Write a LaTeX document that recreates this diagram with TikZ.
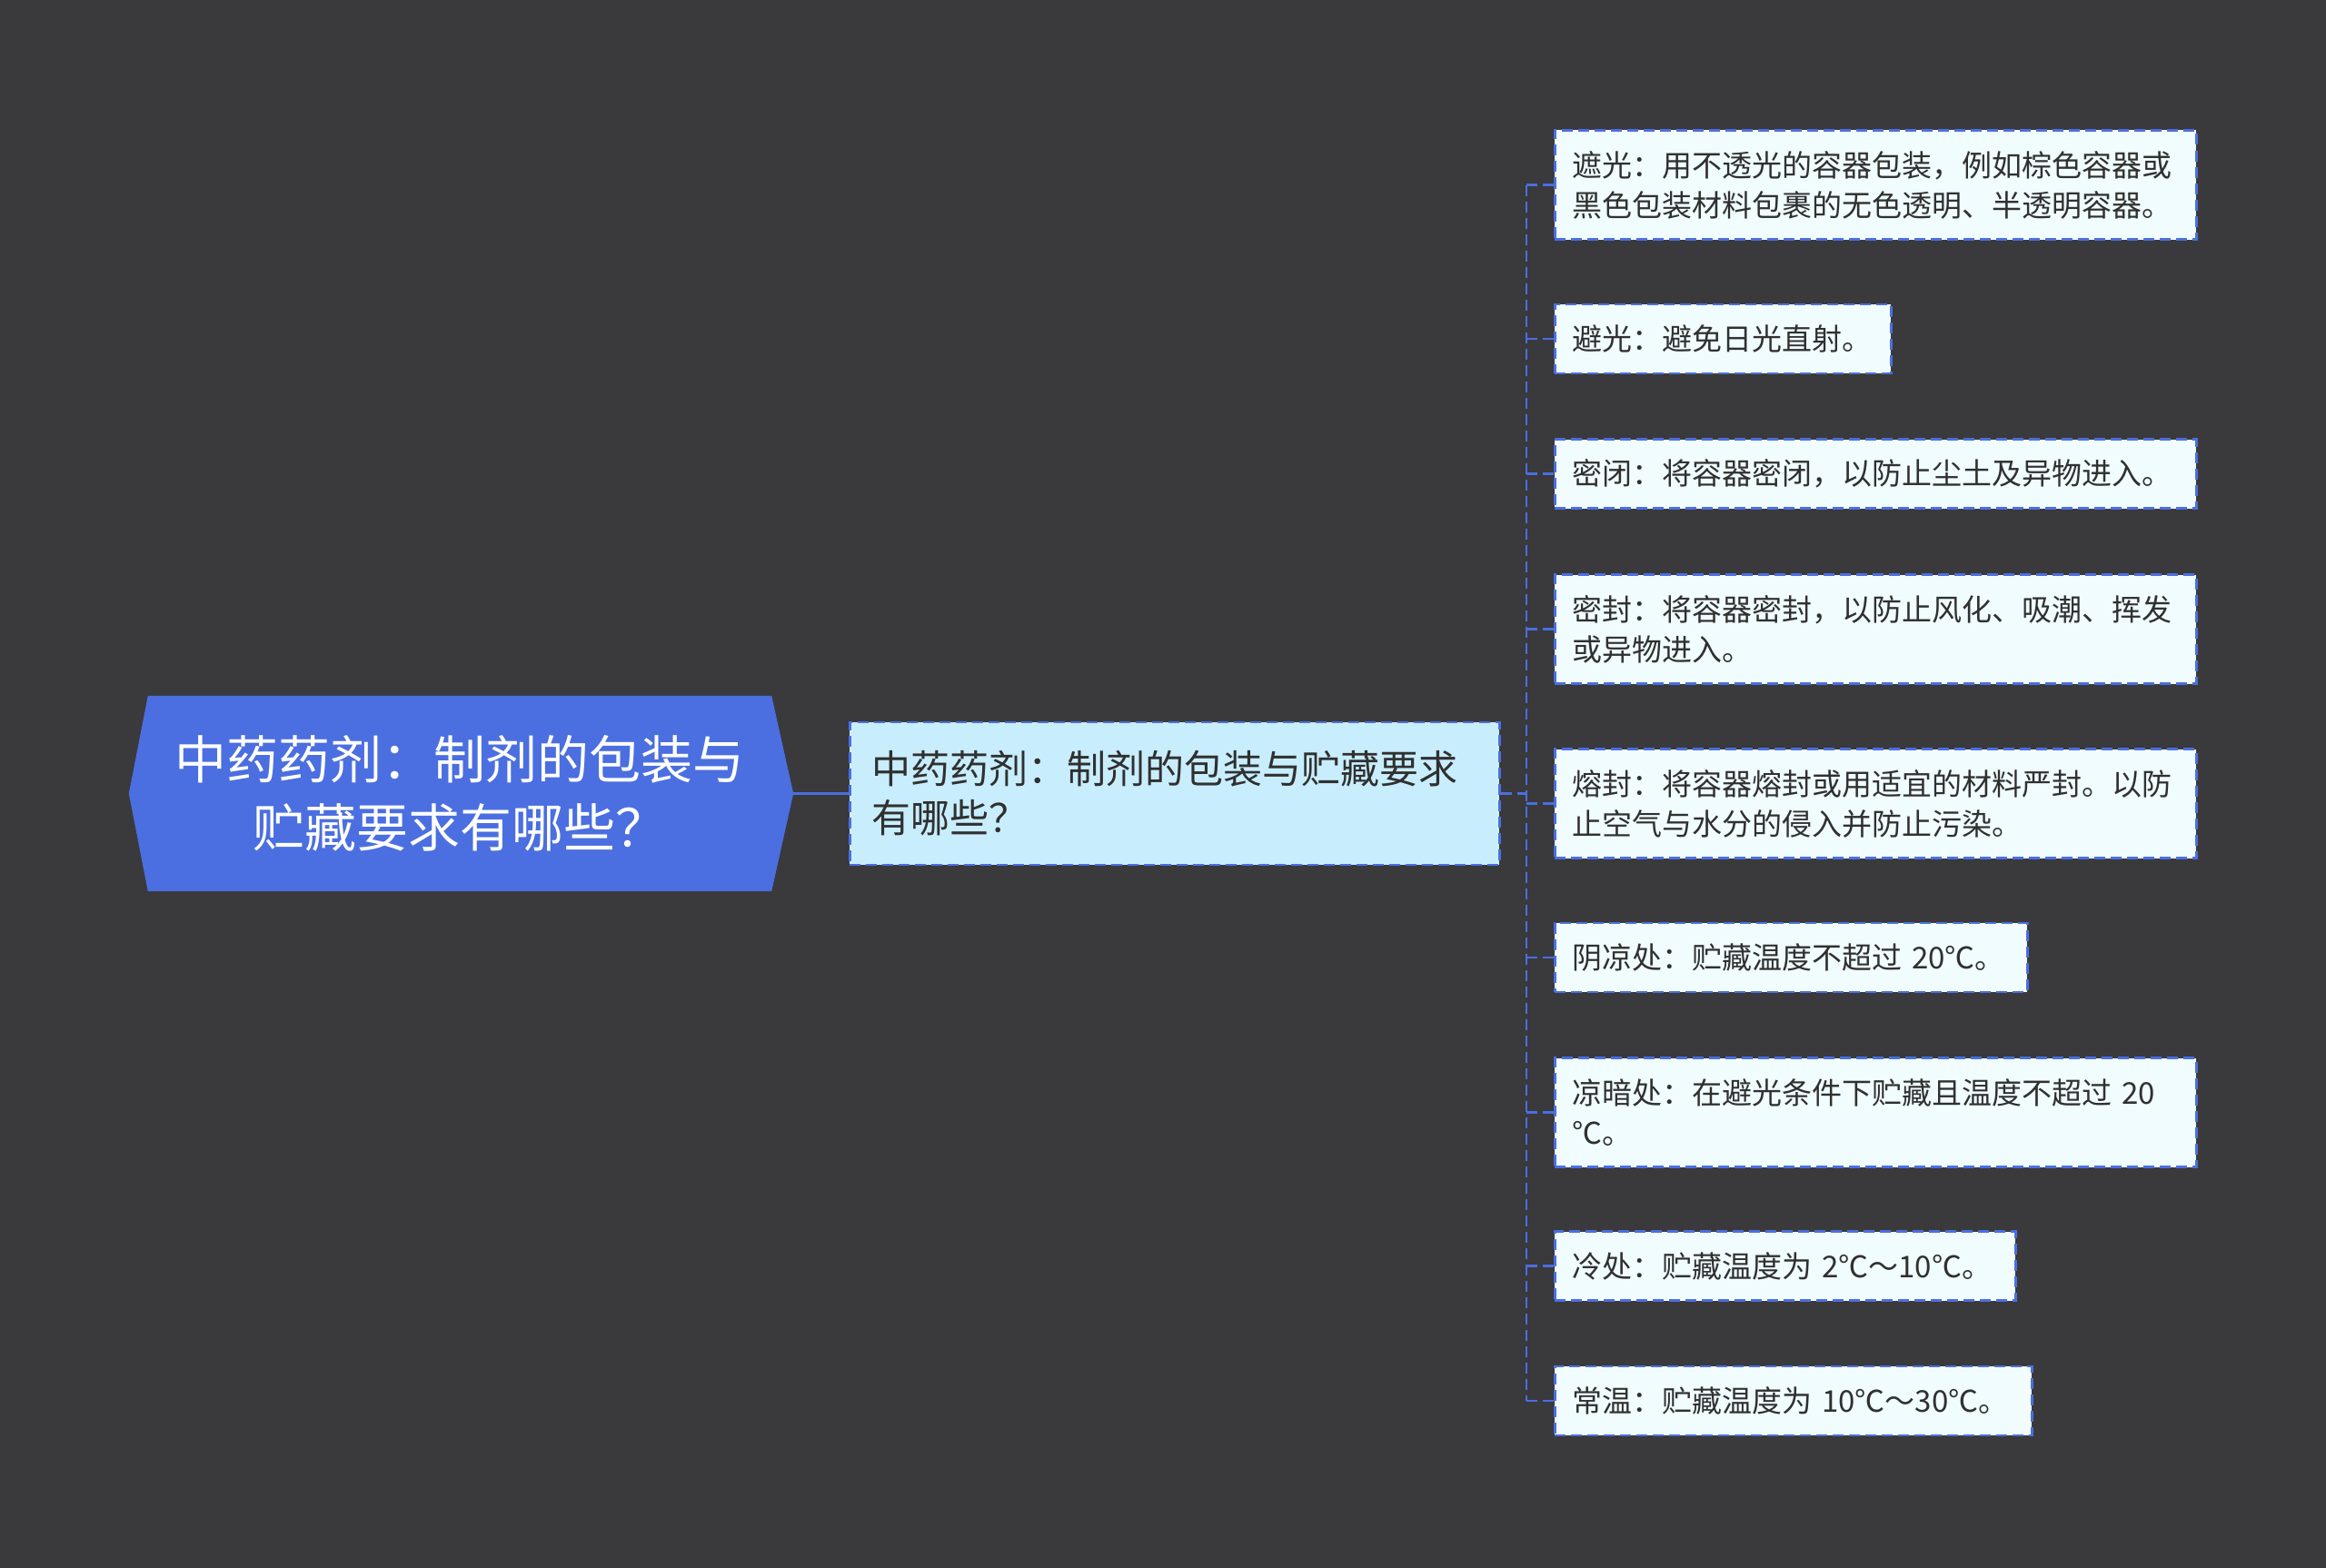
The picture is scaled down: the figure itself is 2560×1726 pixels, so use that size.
\documentclass[tikz,border=0pt]{standalone}
\usepackage{fontspec}
\newfontfamily\cjk{Noto Sans CJK SC}
\usetikzlibrary{calc,backgrounds}
\definecolor{bgc}{HTML}{3A393C}
\definecolor{rootc}{HTML}{4B6FE0}
\definecolor{linec}{HTML}{4A6FE0}
\definecolor{midc}{HTML}{C8EEFD}
\definecolor{leafc}{HTML}{F0FCFE}
\definecolor{txtc}{HTML}{303030}
\begin{document}
\begin{tikzpicture}[x=1pt,y=-1pt,
  conn/.style={draw=linec, line width=2.5pt, dash pattern=on 12pt off 6pt},
  rootnode/.style={minimum width=686pt, minimum height=215pt, inner sep=0pt, align=center, text=white, font=\cjk\fontsize{57}{75}\selectfont},
  midnode/.style={draw=linec, fill=midc, line width=2.5pt, dash pattern=on 12pt off 6pt, anchor=west, inner xsep=24pt, inner ysep=0pt, text width=667pt, minimum height=157pt, align=left, text=txtc, font=\cjk\fontsize{43}{54}\selectfont},
  leaf/.style={draw=linec, fill=leafc, line width=2.5pt, dash pattern=on 12pt off 6pt, anchor=west, inner xsep=19pt, inner ysep=0pt, align=left, text=txtc, font=\cjk\fontsize{33}{44}\selectfont},
  one/.style={minimum height=76pt},
  two/.style={minimum height=120pt}]
\begin{scope}[on background layer]
  \fill[bgc] (0,0) rectangle (2560,1726);
\end{scope}
\useasboundingbox (0,0) rectangle (2560,1726);

% root
\node[rootnode] (root) at (506,873.5) {中药药剂：制剂的包装与\\贮藏要求有哪些？};
\begin{scope}[on background layer]
  \fill[rootc] (root.north west) -- (root.north east) -- ($(root.east)+(24,0)$) -- (root.south east) -- (root.south west) -- ($(root.west)+(-21,0)$) -- cycle;
\end{scope}
\coordinate (roottip) at ($(root.east)+(24,0)$);

% middle
\node[midnode] (mid) at (934,873.5) {中药药剂：制剂的包装与贮藏要求\\有哪些？};
\draw[linec, line width=3pt] (roottip) -- (mid.west);

% leaves
\node[leaf, two, text width=668pt] (c1) at (1710,203.5) {遮光：用不透光的容器包装，例如棕色容器或\\黑色包装材料包裹的无色透明、半透明容器。};
\node[leaf, one, text width=332pt] (c2) at (1710,373) {避光：避免日光直射。};
\node[leaf, one, text width=668pt] (c3) at (1710,521.5) {密闭：将容器密闭，以防止尘土及异物进入。};
\node[leaf, two, text width=668pt] (c4) at (1710,692.5) {密封：将容器密封，以防止风化、吸潮、挥发\\或异物进入。};
\node[leaf, two, text width=668pt] (c5) at (1710,884.5) {熔封：将容器熔封或用适宜的材料严封。以防\\止空气与水分的侵入并防止污染。};
\node[leaf, one, text width=482pt] (c6) at (1710,1054) {阴凉处：贮藏温度不超过 20℃。};
\node[leaf, two, text width=668pt] (c7) at (1710,1224.5) {凉暗处：在避光条件下贮藏且温度不超过 20\\℃。};
\node[leaf, one, text width=469pt] (c8) at (1710,1393.5) {冷处：贮藏温度为 2℃～10℃。};
\node[leaf, one, text width=487pt] (c9) at (1710,1542) {常温：贮藏温度为 10℃～30℃。};

% connectors
\coordinate (sp) at (1680,873.5);
\draw[conn] (mid.east) -- (sp);
\draw[conn] (sp |- c1.west) -- (sp |- c9.west);
\foreach \c in {c1,c2,c3,c4,c5,c6,c7,c8,c9}
  \draw[conn] (sp |- \c.west) -- (\c.west);
\end{tikzpicture}
\end{document}
